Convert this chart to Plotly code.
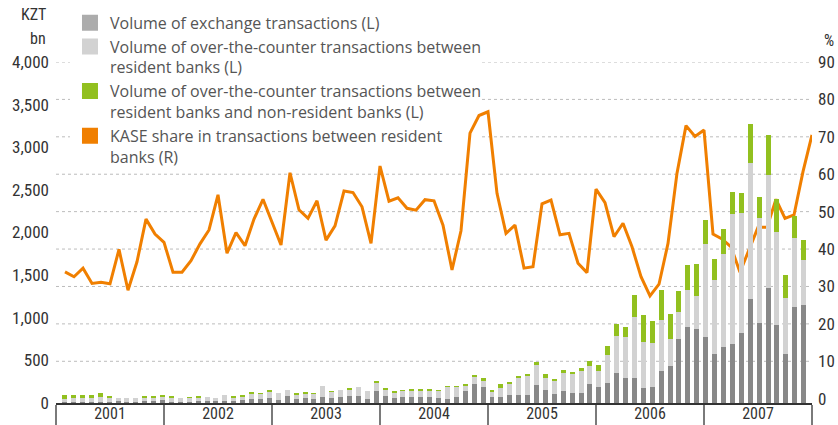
import plotly.graph_objects as go

years = ["2001", "2002", "2003", "2004", "2005", "2006", "2007"]

# KZT bn, monthly, Jan 2001 - Dec 2007
exchange = [
    15, 15, 15, 15, 15, 15, 23, 16, 16, 23, 23, 39,
    16, 12, 16, 23, 23, 23, 23, 23, 35, 47, 47, 59,
    35, 82, 47, 59, 47, 70, 59, 70, 82, 82, 47, 141,
    82, 59, 70, 70, 70, 70, 59, 47, 70, 141, 223, 188,
    74, 74, 94, 94, 94, 211, 152, 106, 141, 117, 117, 223,
    192, 239, 356, 297, 297, 180, 192, 379, 434, 751, 891, 868,
    774, 575, 657, 692, 821, 1220, 938, 1349, 915, 575, 1126, 1150,
]
otc_resident = [
    28, 40, 44, 44, 55, 44, 36, 43, 43, 36, 36, 43,
    54, 47, 43, 43, 47, 36, 71, 47, 47, 66, 59, 78,
    82, 70, 47, 58, 59, 129, 70, 82, 82, 106, 94, 105,
    82, 58, 71, 71, 82, 71, 82, 141, 118, 70, 82, 70,
    55, 106, 129, 203, 227, 235, 145, 152, 215, 227, 262, 211,
    187, 324, 430, 477, 712, 536, 512, 595, 317, 316, 434, 387,
    1091, 868, 1091, 1525, 1408, 1595, 1232, 1325, 1091, 657, 809, 527,
]
otc_nonresident = [
    50, 35, 35, 35, 51, 12, 0, 0, 0, 12, 12, 8,
    8, 0, 7, 12, 0, 0, 0, 8, 8, 12, 11, 12,
    0, 0, 12, 12, 11, 0, 8, 0, 12, 0, 0, 12,
    12, 24, 11, 23, 12, 23, 11, 4, 4, 12, 12, 35,
    12, 43, 27, 24, 23, 39, 47, 27, 31, 24, 35, 63,
    67, 109, 141, 117, 258, 316, 258, 351, 293, 247, 294, 375,
    282, 246, 293, 258, 234, 458, 246, 470, 387, 269, 259, 235,
]
# %, right axis
kase_share = [
    33.9, 32.6, 34.9, 30.8, 31.1, 30.7, 39.9, 29.0, 36.6, 48.0, 44.0, 41.8,
    33.8, 33.8, 36.9, 41.4, 45.1, 54.5, 38.9, 44.4, 40.9, 48.0, 53.3, 47.3,
    41.1, 60.4, 50.5, 48.2, 52.9, 42.4, 46.2, 55.5, 55.1, 51.3, 41.5, 62.2,
    52.8, 53.7, 50.9, 50.4, 53.2, 52.9, 46.4, 34.4, 44.9, 71.0, 75.7, 76.7,
    54.9, 44.2, 46.4, 34.9, 35.3, 52.1, 53.1, 43.8, 44.2, 36.2, 33.7, 56.0,
    52.4, 43.3, 46.9, 40.6, 32.6, 27.5, 30.6, 41.5, 60.3, 73.0, 70.1, 71.8,
    44.0, 42.7, 40.6, 33.8, 39.8, 45.8, 45.8, 53.3, 48.2, 49.1, 60.7, 70.5,
]
left_ticks = [0, 500, 1000, 1500, 2000, 2500, 3000, 3500, 4000]
right_ticks = [0, 10, 20, 30, 40, 50, 60, 70, 80, 90]

legend_names = [
    "Volume of exchange transactions (L)",
    "Volume of over-the-counter transactions between<br>resident banks (L)",
    "Volume of over-the-counter transactions between<br>resident banks and non-resident banks (L)",
    "KASE share in transactions between resident<br>banks (R)",
]

DARK = "#888888"
LIGHT = "#d2d2d2"
GREEN = "#92c01f"
ORANGE = "#f07f00"
NARROW = "Liberation Sans Narrow, Roboto Condensed, Arial Narrow, DejaVu Sans Condensed, sans-serif"

months = list(range(1, len(kase_share) + 1))
n_years = len(years)

fig = go.Figure()
for vals, col in [(exchange, DARK), (otc_resident, LIGHT), (otc_nonresident, GREEN)]:
    fig.add_trace(go.Bar(x=months, y=vals, xaxis="x2", yaxis="y", marker_color=col,
                         marker_line_width=0, width=0.56, showlegend=False, hoverinfo="skip"))
fig.add_trace(go.Scatter(x=months, y=kase_share, xaxis="x", yaxis="y2", mode="lines",
                         line=dict(color=ORANGE, width=3), showlegend=False))

# legend-only swatches (square, like the original)
for i, (name, col) in enumerate(zip(legend_names, ["#acacac", LIGHT, GREEN, ORANGE])):
    fig.add_trace(go.Scatter(x=[None], y=[None], mode="markers", name=name, legendgroup=str(i),
                             marker=dict(symbol="square", size=16, color=col)))

# dotted grid; upper lines are interrupted where the legend sits
shapes = []
for v in right_ticks[1:]:
    segs = [(0, 0.0185), (0.5635, 1)] if v >= 70 else [(0, 1)]
    for x0, x1 in segs:
        shapes.append(dict(type="line", xref="paper", yref="y2", x0=x0, x1=x1, y0=v, y1=v,
                           line=dict(color="#bcbcbc", width=1, dash="dot"), layer="below"))

fig.update_layout(
    width=838, height=425,
    margin=dict(l=56, r=26, t=62, b=22, autoexpand=False),
    plot_bgcolor="white", paper_bgcolor="white",
    barmode="stack",
    shapes=shapes,
    font=dict(family=NARROW, color="#333333", size=16),
    xaxis=dict(range=[0, 12 * n_years], tickmode="array",
               tickvals=[12 * i + 6 for i in range(n_years)], ticktext=years,
               ticks="", showline=True, linecolor="#333333", linewidth=2,
               showgrid=False, zeroline=False, ticklabelstandoff=-5,
               tickfont=dict(family=NARROW, size=16, color="#333333"),
               minor=dict(tick0=0, dtick=12, ticks="outside", ticklen=22, tickcolor="#7a7a7a", tickwidth=2)),
    xaxis2=dict(overlaying="x", range=[0.034, 84.94], visible=False),
    yaxis=dict(range=[0, 4000], tickvals=left_ticks, tickformat=",d", showgrid=False,
               zeroline=False, ticks="", ticklabelstandoff=6,
               tickfont=dict(family=NARROW, size=17, color="#333333")),
    yaxis2=dict(overlaying="y", side="right", range=[-1.15, 90], tickvals=right_ticks,
                showgrid=False, zeroline=False, ticks="", ticklabelstandoff=5,
                tickfont=dict(family=NARROW, size=17, color="#333333")),
    legend=dict(x=0.0185, y=1.165, xanchor="left", yanchor="top", bgcolor="rgba(0,0,0,0)",
                valign="top", tracegroupgap=0, itemclick=False,
                font=dict(family="Open Sans, sans-serif", size=16, color="#555555")),
    annotations=[
        dict(text="KZT", xref="paper", yref="paper", x=-0.0106, y=1.138, xanchor="right",
             yanchor="middle", showarrow=False, font=dict(family=NARROW, size=16, color="#333333")),
        dict(text="bn", xref="paper", yref="paper", x=-0.0106, y=1.070, xanchor="right",
             yanchor="middle", showarrow=False, font=dict(family=NARROW, size=16, color="#333333")),
        dict(text="%", xref="paper", yref="paper", x=1.0225, y=1.0645, xanchor="center",
             yanchor="middle", showarrow=False, font=dict(family=NARROW, size=16, color="#333333")),
    ],
)

# the default page body margin would shift the 838x425 figure out of the window
fig.write_html("out.html", config={"displayModeBar": False},
               post_script="document.body.style.margin = '0';")
